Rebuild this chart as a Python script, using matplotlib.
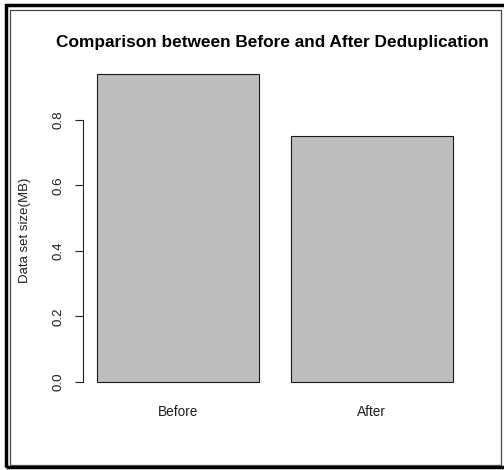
import matplotlib
matplotlib.use("Agg")
import matplotlib.pyplot as plt
from matplotlib.patches import Rectangle

categories = ["Before", "After"]
values = [0.94, 0.75]
yticks = [0.0, 0.2, 0.4, 0.6, 0.8]
ytick_labels = ["0.0", "0.2", "0.4", "0.6", "0.8"]
title = "Comparison between Before and After Deduplication"
ylabel = "Data set size(MB)"

plt.rcParams['font.family'] = ['Liberation Sans', 'DejaVu Sans']

W, H = 504, 470
fig = plt.figure(figsize=(W / 100, H / 100), dpi=100)

def fx(px):
    return px / W

def fy(py):
    return 1 - py / H

left, right, top, bottom = 82.5, 466.9, 61.9, 394.0
ax = fig.add_axes([fx(left), fy(bottom), fx(right) - fx(left), fy(top) - fy(bottom)])

centers = [0.7, 1.9]
ax.bar(centers, values, width=1.0, color="#BEBEBE", edgecolor="#1a1a1a", linewidth=0.8)
ax.set_xlim(0.112, 2.488)
ax.set_ylim(-0.0376, 0.9776)

for s in ["top", "right", "bottom"]:
    ax.spines[s].set_visible(False)
ax.spines["left"].set_bounds(0, 0.8)
ax.spines["left"].set_color("#222222")
ax.spines["left"].set_linewidth(0.8)

txt = "#1e1e1e"
ax.set_yticks(yticks)
ax.set_yticklabels(ytick_labels, rotation=90, va="center", fontsize=9.6, color=txt)
ax.tick_params(axis="y", length=5.5, width=0.8, color="#222222", pad=7.2)

ax.set_xticks(centers)
ax.set_xticklabels(categories, fontsize=9.8, color=txt)
ax.tick_params(axis="x", length=0, pad=7.6)

fig.text(fx(25), fy(230), ylabel, rotation=90, ha="center", va="center", fontsize=9.5, color=txt)
fig.text(fx(272), fy(42), title, ha="center", va="center", fontsize=12.4, fontweight="bold", color="#000000")

# outer and inner frames
fig.add_artist(Rectangle((fx(5.5), fy(466.5)), fx(515) - fx(5.5), fy(4.8) - fy(466.5),
                         transform=fig.transFigure, fill=False, edgecolor="black", linewidth=2.5))
fig.add_artist(Rectangle((fx(10), fy(464.8)), fx(500.5) - fx(10), fy(9.5) - fy(464.8),
                         transform=fig.transFigure, fill=False, edgecolor="#444444", linewidth=0.9))

fig.savefig("out.png", dpi=100, facecolor="white")
